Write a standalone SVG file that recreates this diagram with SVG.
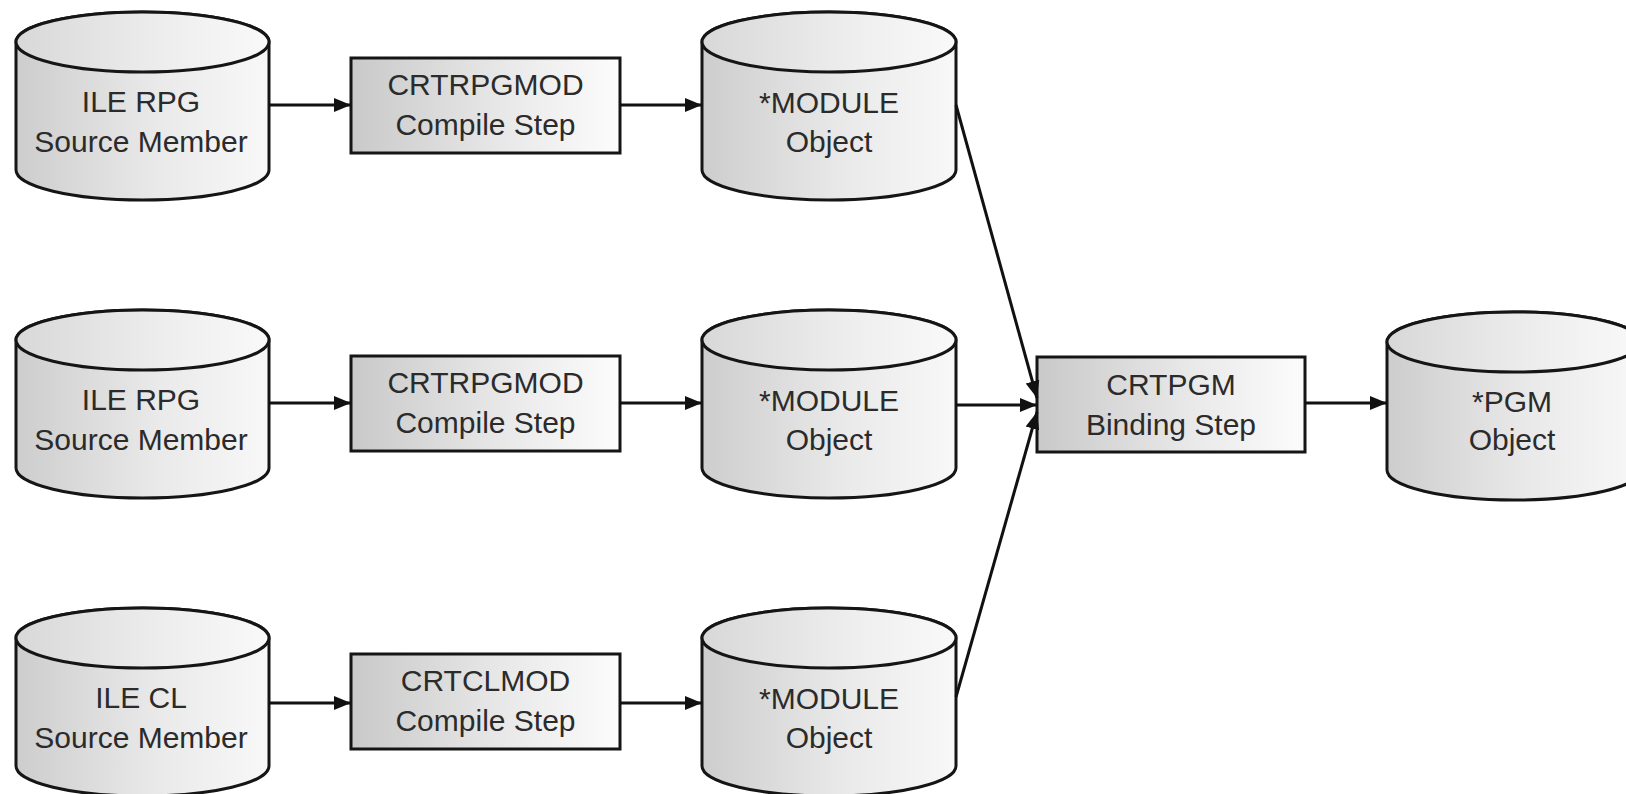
<svg xmlns="http://www.w3.org/2000/svg" width="1626" height="794" viewBox="0 0 1626 794">
<defs>
<linearGradient id="gBody" x1="0" y1="0" x2="1" y2="0">
<stop offset="0" stop-color="#cdcdcd"/>
<stop offset="0.55" stop-color="#e9e9e9"/>
<stop offset="1" stop-color="#f8f8f8"/>
</linearGradient>
<linearGradient id="gTop" x1="0" y1="0" x2="1" y2="0">
<stop offset="0" stop-color="#d8d8d8"/>
<stop offset="0.6" stop-color="#eeeeee"/>
<stop offset="1" stop-color="#f9f9f9"/>
</linearGradient>
<linearGradient id="gBox" x1="0" y1="0" x2="1" y2="0">
<stop offset="0" stop-color="#c9c9c9"/>
<stop offset="0.6" stop-color="#eaeaea"/>
<stop offset="1" stop-color="#fcfcfc"/>
</linearGradient>
<marker id="ah" markerUnits="userSpaceOnUse" markerWidth="18" markerHeight="16" refX="17" refY="8" orient="auto">
<path d="M0,1 L17,8 L0,15 Z" fill="#111"/>
</marker>
</defs>
<style>
.body{fill:url(#gBody);stroke:#151515;stroke-width:3}
.top{fill:url(#gTop);stroke:#151515;stroke-width:3}
.box{fill:url(#gBox);stroke:#151515;stroke-width:3}
.t{font-family:"Liberation Sans",Arial,sans-serif;font-size:30px;fill:#2b2b2b;text-anchor:middle}
.c{stroke:#111;stroke-width:3;fill:none;marker-end:url(#ah)}
</style>
<rect width="1626" height="794" fill="#fff"/>

<g id="src1" transform="translate(16,0)">
<path class="body" d="M0,42 A126.5,30 0 0 1 253,42 V170 A126.5,30 0 0 1 0,170 Z"/>
<ellipse class="top" cx="126.5" cy="42" rx="126.5" ry="30"/>
<text class="t" x="125" y="112">ILE RPG</text>
<text class="t" x="125" y="152">Source Member</text>
</g>
<g id="src2" transform="translate(16,298)">
<path class="body" d="M0,42 A126.5,30 0 0 1 253,42 V170 A126.5,30 0 0 1 0,170 Z"/>
<ellipse class="top" cx="126.5" cy="42" rx="126.5" ry="30"/>
<text class="t" x="125" y="112">ILE RPG</text>
<text class="t" x="125" y="152">Source Member</text>
</g>
<g id="src3" transform="translate(16,596)">
<path class="body" d="M0,42 A126.5,30 0 0 1 253,42 V170 A126.5,30 0 0 1 0,170 Z"/>
<ellipse class="top" cx="126.5" cy="42" rx="126.5" ry="30"/>
<text class="t" x="125" y="112">ILE CL</text>
<text class="t" x="125" y="152">Source Member</text>
</g>

<g id="cmp1" transform="translate(351,58)">
<rect class="box" x="0" y="0" width="269" height="95"/>
<text class="t" x="134.5" y="37">CRTRPGMOD</text>
<text class="t" x="134.5" y="77">Compile Step</text>
</g>
<g id="cmp2" transform="translate(351,356)">
<rect class="box" x="0" y="0" width="269" height="95"/>
<text class="t" x="134.5" y="37">CRTRPGMOD</text>
<text class="t" x="134.5" y="77">Compile Step</text>
</g>
<g id="cmp3" transform="translate(351,654)">
<rect class="box" x="0" y="0" width="269" height="95"/>
<text class="t" x="134.5" y="37">CRTCLMOD</text>
<text class="t" x="134.5" y="77">Compile Step</text>
</g>

<g id="mod1" transform="translate(702,0)">
<path class="body" d="M0,42 A127,30 0 0 1 254,42 V170 A127,30 0 0 1 0,170 Z"/>
<ellipse class="top" cx="127" cy="42" rx="127" ry="30"/>
<text class="t" x="127" y="113">*MODULE</text>
<text class="t" x="127" y="152">Object</text>
</g>
<g id="mod2" transform="translate(702,298)">
<path class="body" d="M0,42 A127,30 0 0 1 254,42 V170 A127,30 0 0 1 0,170 Z"/>
<ellipse class="top" cx="127" cy="42" rx="127" ry="30"/>
<text class="t" x="127" y="113">*MODULE</text>
<text class="t" x="127" y="152">Object</text>
</g>
<g id="mod3" transform="translate(702,596)">
<path class="body" d="M0,42 A127,30 0 0 1 254,42 V170 A127,30 0 0 1 0,170 Z"/>
<ellipse class="top" cx="127" cy="42" rx="127" ry="30"/>
<text class="t" x="127" y="113">*MODULE</text>
<text class="t" x="127" y="152">Object</text>
</g>

<g id="bind" transform="translate(1037,357)">
<rect class="box" x="0" y="0" width="268" height="95"/>
<text class="t" x="134" y="38">CRTPGM</text>
<text class="t" x="134" y="78">Binding Step</text>
</g>

<g id="pgm" transform="translate(1387,300)">
<path class="body" d="M0,42 A127,30 0 0 1 254,42 V170 A127,30 0 0 1 0,170 Z"/>
<ellipse class="top" cx="127" cy="42" rx="127" ry="30"/>
<text class="t" x="125" y="112">*PGM</text>
<text class="t" x="125" y="150">Object</text>
</g>

<g id="connectors">
<line class="c" x1="269" y1="105" x2="351" y2="105"/>
<line class="c" x1="269" y1="403" x2="351" y2="403"/>
<line class="c" x1="269" y1="703" x2="351" y2="703"/>
<line class="c" x1="620" y1="105" x2="702" y2="105"/>
<line class="c" x1="620" y1="403" x2="702" y2="403"/>
<line class="c" x1="620" y1="703" x2="702" y2="703"/>
<line class="c" x1="956" y1="105" x2="1037" y2="398"/>
<line class="c" x1="956" y1="405" x2="1037" y2="405"/>
<line class="c" x1="956" y1="697" x2="1037" y2="412"/>
<line class="c" x1="1305" y1="403" x2="1387" y2="403"/>
</g>
</svg>
